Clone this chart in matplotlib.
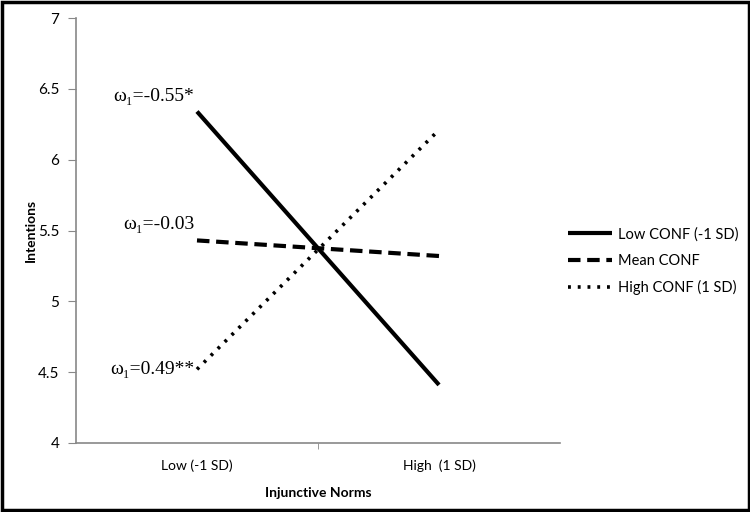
import matplotlib
matplotlib.use("Agg")
import matplotlib.pyplot as plt
from matplotlib.patches import Rectangle

categories = ["Low (-1 SD)", "High  (1 SD)"]
low_conf = [6.34, 4.41]
mean_conf = [5.43, 5.32]
high_conf = [4.52, 6.21]
series_names = ["Low CONF (-1 SD)", "Mean CONF", "High CONF (1 SD)"]
annotations = ["ω₁=-0.55*", "ω₁=-0.03", "ω₁=0.49**"]
yticks = [4, 4.5, 5, 5.5, 6, 6.5, 7]
ytick_labels = ["4", "4.5", "5", "5.5", "6", "6.5", "7"]

sans = ["Lato", "DejaVu Sans"]
serif = ["Liberation Serif", "DejaVu Serif"]
plt.rcParams["font.family"] = sans

fig = plt.figure(figsize=(7.5, 5.12), dpi=100)
ax = fig.add_axes([0.1013, 0.1348, 0.6454, 0.83])

x = [0, 1]
styles = [dict(ls="-", lw=3.0), dict(ls=(0, (3.0, 1.6)), lw=3.0), dict(ls=(0, (0.8, 1.9)), lw=2.6)]
series = [low_conf, mean_conf, high_conf]
handles = []
for vals, st, name in zip(series, styles, series_names):
    ln, = ax.plot(x, vals, color="black", solid_capstyle="butt", dash_capstyle="butt", **st, label=name)
    handles.append(ln)

offsets = [(-2, 5), (-2, 5), (-2, 0)]
vas = ["bottom", "bottom", "center"]
for vals, txt, off, va in zip(series, annotations, offsets, vas):
    ax.annotate(txt, (x[0], vals[0]), xytext=off, textcoords="offset points",
                ha="right", va=va, fontsize=14, family=serif)

ax.set_xlim(-0.5, 1.5)
ax.set_ylim(4, 7)
ax.set_xticks(x)
ax.set_xticklabels(categories, fontsize=10)
ax.set_xticks([0.5], minor=True)
ax.tick_params(axis="x", which="major", length=0, pad=12)
ax.tick_params(axis="x", which="minor", length=4, color="#888888", direction="out")
ax.set_yticks(yticks)
ax.set_yticklabels(ytick_labels, fontsize=11)
ax.tick_params(axis="y", length=6, color="#888888", pad=6)

for s in ["top", "right"]:
    ax.spines[s].set_visible(False)
for s in ["left", "bottom"]:
    ax.spines[s].set_color("#888888")
    ax.spines[s].set_linewidth(1.2)

ax.set_xlabel("Injunctive Norms", fontsize=10, fontweight="bold", labelpad=11)
ax.set_ylabel("Intentions", fontsize=10, fontweight="bold", labelpad=1)

fig.legend(handles=handles, labels=series_names, loc="center left",
           bbox_to_anchor=(0.74, 0.49), frameon=False, fontsize=10.5,
           handlelength=3.0, labelspacing=0.85, handletextpad=0.4)

fig.patches.append(Rectangle((0.002, 0.003), 0.996, 0.994, transform=fig.transFigure,
                             fill=False, edgecolor="black", linewidth=2.5))

fig.savefig("out.png", dpi=100)
